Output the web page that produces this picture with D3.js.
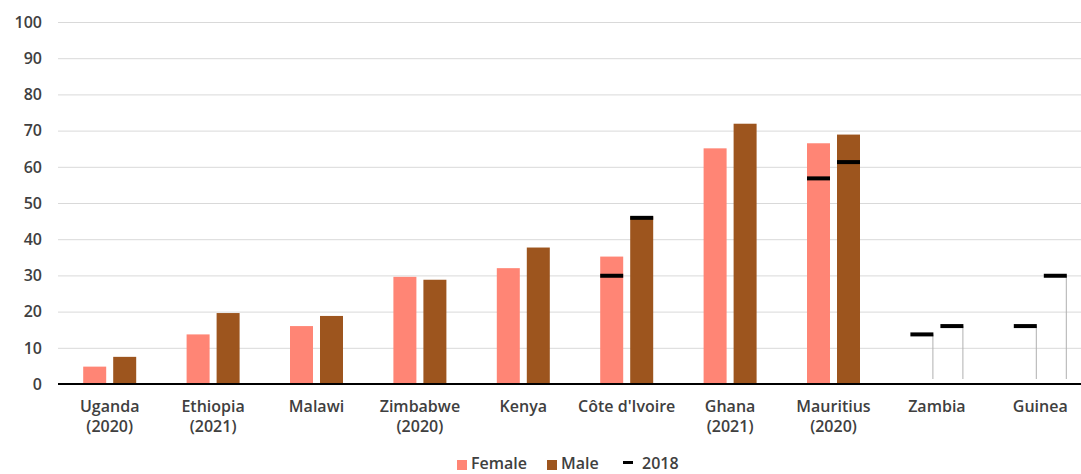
<!DOCTYPE html>
<meta charset="utf-8">
<style>
body { margin: 0; padding: 0; background: #fff; }
text { font-family: "Open Sans", Lato, sans-serif; font-weight: 600; fill: #404040; }
.grid line { stroke: #d9d9d9; stroke-width: 1px; }
</style>
<body>
<div id="chart"></div>
<script src="https://cdnjs.cloudflare.com/ajax/libs/d3/7.8.5/d3.min.js"></script>
<script>
// categories and series
var countries = ["Uganda (2020)", "Ethiopia (2021)", "Malawi", "Zimbabwe (2020)", "Kenya",
  "Côte d'Ivoire", "Ghana (2021)", "Mauritius (2020)", "Zambia", "Guinea"];
var female = [4.8, 13.7, 16.0, 29.6, 32.0, 35.2, 65.1, 66.5, null, null];
var male = [7.5, 19.6, 18.8, 28.8, 37.7, 46.3, 71.9, 68.9, null, null];
var female2018 = [null, null, null, null, null, 29.9, null, 56.8, 13.7, 16.0];
var male2018 = [null, null, null, null, null, 45.9, null, 61.3, 16.0, 29.9];
var yTicks = [0, 10, 20, 30, 40, 50, 60, 70, 80, 90, 100];

var width = 1081, height = 474;
var femaleColor = "#ff8575", maleColor = "#9d551e";

var svg = d3.select("#chart").append("svg")
  .attr("width", width)
  .attr("height", height);

var x = d3.scaleBand().domain(countries).range([58, 1092]);
var y = d3.scaleLinear().domain([0, 100]).range([384, 22]);

var barW = 23, offset = 15;

// gridlines
svg.append("g")
  .attr("class", "grid")
  .selectAll("line")
  .data(yTicks.filter(function(d) { return d > 0; }))
  .enter().append("line")
  .attr("x1", 58).attr("x2", width)
  .attr("y1", function(d) { return y(d) + 0.5; })
  .attr("y2", function(d) { return y(d) + 0.5; });

// y axis labels
svg.append("g")
  .selectAll("text")
  .data(yTicks)
  .enter().append("text")
  .attr("x", 42)
  .attr("y", function(d) { return y(d); })
  .attr("dy", "0.36em")
  .attr("text-anchor", "end")
  .style("font-size", "16px")
  .text(function(d) { return d; });

function bars(vals, color, dx) {
  svg.append("g")
    .selectAll("rect")
    .data(countries.map(function(c, i) { return {c: c, v: vals[i]}; }).filter(function(d) { return d.v != null; }))
    .enter().append("rect")
    .attr("x", function(d) { return x(d.c) + x.bandwidth() / 2 + dx - barW / 2; })
    .attr("width", barW)
    .attr("y", function(d) { return y(d.v); })
    .attr("height", function(d) { return y(0) - y(d.v); })
    .attr("fill", color);
}
bars(female, femaleColor, -offset);
bars(male, maleColor, offset);

// 2018 markers (with thin stem where no bar)
function markers(vals, barVals, dx) {
  var data = countries.map(function(c, i) { return {c: c, v: vals[i], bar: barVals[i]}; })
    .filter(function(d) { return d.v != null; });
  var g = svg.append("g");
  g.selectAll("line.stem")
    .data(data.filter(function(d) { return d.bar == null; }))
    .enter().append("line")
    .attr("x1", function(d) { return x(d.c) + x.bandwidth() / 2 + dx + barW / 2 - 0.5; })
    .attr("x2", function(d) { return x(d.c) + x.bandwidth() / 2 + dx + barW / 2 - 0.5; })
    .attr("y1", function(d) { return y(d.v); })
    .attr("y2", y(0) - 5)
    .attr("stroke", "#b0b0b0")
    .attr("stroke-width", 1);
  g.selectAll("rect")
    .data(data)
    .enter().append("rect")
    .attr("x", function(d) { return x(d.c) + x.bandwidth() / 2 + dx - barW / 2; })
    .attr("width", barW)
    .attr("y", function(d) { return y(d.v) - 2; })
    .attr("height", 4)
    .attr("fill", "#000");
}
markers(female2018, female, -offset);
markers(male2018, male, offset);

// x axis line
svg.append("line")
  .attr("x1", 58).attr("x2", width)
  .attr("y1", y(0)).attr("y2", y(0))
  .attr("stroke", "#000").attr("stroke-width", 2);

// x labels, split "(year)" onto second line
var xl = svg.append("g")
  .selectAll("text")
  .data(countries)
  .enter().append("text")
  .attr("text-anchor", "middle")
  .style("font-size", "16px");
xl.each(function(d) {
  var m = d.match(/^(.*?) (\(\d+\))$/);
  var lines = m ? [m[1], m[2]] : [d];
  var t = d3.select(this);
  lines.forEach(function(s, i) {
    t.append("tspan")
      .attr("x", x(d) + x.bandwidth() / 2)
      .attr("y", 412 + i * 20)
      .text(s);
  });
});

// legend
var lg = svg.append("g").style("font-size", "16px");
lg.append("rect").attr("x", 457).attr("y", 460).attr("width", 10).attr("height", 10).attr("fill", femaleColor);
lg.append("text").attr("x", 471).attr("y", 469).text("Female");
lg.append("rect").attr("x", 547).attr("y", 460).attr("width", 10).attr("height", 10).attr("fill", maleColor);
lg.append("text").attr("x", 561).attr("y", 469).text("Male");
lg.append("rect").attr("x", 623).attr("y", 461).attr("width", 10).attr("height", 3).attr("fill", "#000");
lg.append("text").attr("x", 642).attr("y", 469).text("2018");
</script>
</body>
